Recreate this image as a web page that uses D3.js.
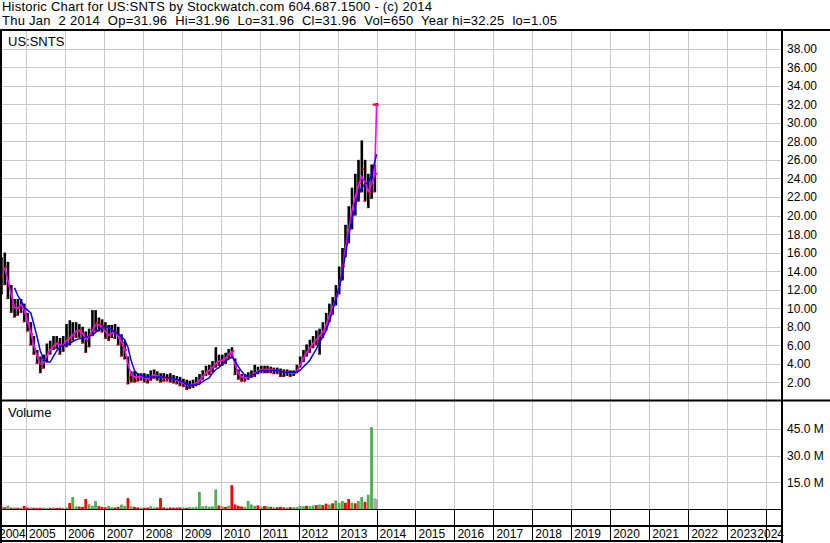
<!DOCTYPE html>
<html>
<head>
<meta charset="utf-8">
<script src="https://cdn.jsdelivr.net/npm/d3@7"></script>
<style>
html, body { margin: 0; padding: 0; background: #fff; }
svg { display: block; font-family: Arial, "Liberation Sans", sans-serif; }
</style>
</head>
<body>
<svg id="chart" width="830" height="543"></svg>
<script>
// monthly bars, May 2004 .. Dec 2013, plus the Jan 2 2014 print
const closes = [13.5,14.5,12.5,10.5,10.0,10.0,10.5,9.5,8.4,7.2,
  5.6,4.6,3.6,4.3,5.3,5.8,6.2,6.3,6.0,6.2,
  6.8,7.0,7.2,7.6,7.7,7.2,6.5,7.2,8.0,8.4,
  8.3,8.1,7.3,7.2,7.5,7.5,6.8,6.0,5.5,2.5,
  2.6,2.5,2.6,2.6,2.5,2.3,2.7,2.9,2.7,2.5,
  2.5,2.5,2.5,2.3,2.2,2.0,1.9,1.7,1.7,1.8,
  2.0,2.3,2.8,3.2,3.3,3.7,4.2,4.4,4.4,4.6,
  5.1,5.4,3.3,2.7,2.5,2.5,2.7,2.9,3.0,3.3,
  3.4,3.4,3.4,3.4,3.3,3.3,3.2,3.1,3.1,3.0,
  3.0,3.4,4.2,4.9,5.4,5.9,6.4,6.8,7.1,7.6,
  8.6,9.5,10.4,11.3,13.0,14.5,17.3,18.7,21.0,22.3,
  23.5,25.0,23.2,22.4,23.8,24.5,31.96];

const highs = [15.5,16.0,15.0,12.5,11.0,11.0,11.0,10.5,9.5,8.5,
  7.0,5.5,4.8,5.0,6.2,6.5,7.0,7.0,6.8,7.0,
  8.3,8.7,8.5,8.5,8.3,8.0,7.5,7.8,9.8,9.8,
  9.0,8.8,8.5,8.2,8.2,8.3,8.0,7.2,6.5,4.8,
  3.2,3.2,3.0,3.0,3.0,2.9,3.3,3.4,3.2,3.0,
  3.0,2.9,3.0,2.8,2.7,2.6,2.4,2.3,2.2,2.3,
  2.6,2.9,3.3,3.8,3.9,4.3,5.8,5.0,5.0,5.2,
  5.6,5.8,4.6,3.4,2.9,2.9,3.1,3.3,3.9,3.7,
  3.8,3.8,3.8,3.7,3.6,3.6,3.5,3.4,3.4,3.3,
  3.3,3.9,4.8,5.5,6.1,6.6,7.0,7.6,7.8,8.5,
  9.5,10.5,11.2,12.5,14.5,16.5,19.0,21.0,23.0,24.5,
  26.0,28.1,26.0,24.5,25.5,25.5,32.1];

const lows = [11.5,12.5,11.0,9.5,9.0,9.2,9.5,8.5,7.5,6.0,
  5.0,4.0,3.0,3.5,4.2,5.0,5.5,5.6,5.0,5.3,
  5.8,6.0,6.5,6.8,6.8,6.2,5.2,5.8,7.0,7.5,
  7.5,7.4,6.7,6.5,6.8,6.7,6.0,4.8,4.5,1.8,
  2.0,2.0,2.1,2.2,2.0,1.9,2.2,2.4,2.2,2.0,
  2.1,2.1,2.0,1.9,1.8,1.6,1.5,1.2,1.3,1.4,
  1.6,1.9,2.3,2.7,2.8,3.1,3.6,3.8,3.8,4.0,
  4.5,4.6,2.8,2.3,2.1,2.1,2.3,2.5,2.6,2.9,
  3.0,3.0,3.0,3.0,2.9,2.9,2.6,2.6,2.7,2.6,
  2.7,3.0,3.6,4.2,4.8,5.2,5.7,6.0,5.0,6.8,
  7.6,8.5,9.3,10.3,11.5,13.0,15.5,17.0,18.5,20.0,
  21.5,22.5,21.5,20.8,21.8,22.5,31.8];

// magenta (short) and blue (long) average lines as drawn
const avgShort = [null,14.4,13.0,11.5,10.1,10.0,10.4,9.8,8.6,7.4,
  6.0,4.8,4.0,4.1,4.9,5.5,5.9,6.2,6.1,6.0,
  6.5,6.8,7.1,7.5,7.6,7.3,6.7,6.9,7.6,8.2,
  8.2,8.0,7.5,7.1,7.3,7.4,7.0,6.4,5.6,4.0,
  2.8,2.6,2.6,2.6,2.5,2.4,2.6,2.8,2.7,2.6,
  2.5,2.5,2.5,2.4,2.2,2.1,1.9,1.8,1.7,1.8,
  1.9,2.2,2.6,3.0,3.3,3.6,4.0,4.3,4.4,4.6,
  5.0,5.3,4.0,3.0,2.6,2.5,2.6,2.8,3.0,3.2,
  3.4,3.4,3.4,3.4,3.3,3.3,3.2,3.1,3.1,3.0,
  3.0,3.2,3.9,4.6,5.2,5.7,6.2,6.6,7.0,7.4,
  8.2,9.2,10.1,11.0,12.4,14.0,16.4,18.4,20.5,22.0,
  23.2,24.2,23.6,22.6,23.4,24.4,31.96];

const avgLong = [null,null,null,null,12.2,11.4,10.8,10.1,9.8,9.5,
  8.3,6.9,5.4,4.5,4.2,4.2,4.8,5.4,5.8,6.0,
  6.1,6.2,6.4,6.6,6.7,6.8,6.9,7.0,7.1,7.4,
  7.7,7.9,8.0,7.9,7.7,7.4,7.2,6.9,6.6,5.8,
  4.3,3.3,2.9,2.8,2.6,2.6,2.6,2.6,2.6,2.6,
  2.6,2.5,2.5,2.4,2.3,2.2,2.0,1.8,1.7,1.7,
  1.8,1.8,2.1,2.3,2.5,3.0,3.4,3.6,4.0,4.3,
  4.5,4.8,4.3,3.7,3.2,2.8,2.6,2.8,2.9,3.1,
  3.3,3.3,3.3,3.3,3.3,3.3,3.2,3.1,3.1,3.1,
  3.1,3.1,3.3,3.7,4.0,4.4,5.0,5.6,6.3,6.9,
  7.6,8.6,9.7,11.0,12.2,13.8,15.8,17.8,19.6,21.0,
  22.2,23.0,23.4,23.6,24.3,25.8,26.6];

// volume in millions, with bar colour (g up, r down, x unsettled)
const volumes = [1.5,1.0,1.9,0.8,0.9,0.7,0.8,1.7,0.8,0.9,
  0.7,0.6,0.7,0.8,0.6,0.7,0.8,0.6,0.7,0.7,
  0.9,3.4,6.7,1.5,1.3,1.2,5.6,2.7,1.8,4.5,
  1.6,1.2,0.9,1.7,1.0,0.8,1.2,2.5,1.8,6.1,
  1.5,1.2,0.9,0.8,0.7,0.8,1.5,0.9,0.8,6.1,
  0.9,0.8,0.9,0.7,0.8,0.9,0.8,0.7,1.0,0.9,
  1.2,9.6,1.5,1.8,1.3,1.5,11.0,2.0,1.5,1.2,
  1.8,13.4,2.5,1.8,1.4,1.2,4.5,2.5,1.8,2.0,
  1.3,1.7,1.5,1.2,1.0,1.0,1.2,0.9,0.9,1.1,
  1.0,1.2,1.7,1.5,1.8,1.6,2.0,2.2,2.5,2.2,
  3.0,2.5,3.2,4.8,3.5,4.5,3.5,5.6,3.5,3.2,
  4.5,6.7,4.0,8.0,46.0,6.0,5.5];

const volDirs = ('grgrgrgrrg' + 'rrrggrgrrg' + 'grggrrrggg' + 'rrrggrrggr' + 'grrgrrggrr' +
  'rgrrrrgrgg' + 'gggggggrgr' + 'grrrrggggr' + 'grgrgrrrgr' + 'ggggrggrgr' +
  'rgrgggrrgr' + 'ggrgg' + 'xx').split('');

const priceTicks = [2,4,6,8,10,12,14,16,18,20,22,24,26,28,30,32,34,36,38];
const volumeTicks = [15, 30, 45];
const yearTicks = d3.range(2004, 2025);

const titleLine = 'Historic Chart for US:SNTS by Stockwatch.com 604.687.1500 - (c) 2014';
const quoteLine = 'Thu Jan  2 2014  Op=31.96  Hi=31.96  Lo=31.96  Cl=31.96  Vol=650  Year hi=32.25  lo=1.05';

const dates = d3.timeMonth.range(new Date(2004, 4, 1), new Date(2014, 0, 1))
  .map(d => d3.timeDay.offset(d, 14));
dates.push(new Date(2014, 0, 2));

const plotL = 1, plotR = 782;
const priceTop = 30, priceBot = 400, volBot = 509;

const x = d3.scaleTime()
  .domain([new Date(2005, 0, 1), new Date(2024, 0, 1)])
  .range([26, 766]);
const yP = d3.scaleLinear().domain([0, 40]).range([401, 30]);
const yV = d3.scaleLinear().domain([0, 60.6]).range([509, 401]);

const svg = d3.select('#chart');
const gridColor = '#c8c8c8';

const defs = svg.append('defs');
defs.append('clipPath').attr('id', 'clipP').append('rect')
  .attr('x', 2).attr('y', priceTop + 1).attr('width', plotR - 3).attr('height', priceBot - priceTop - 2);
defs.append('clipPath').attr('id', 'clipV').append('rect')
  .attr('x', 2).attr('y', priceBot + 2).attr('width', plotR - 3).attr('height', volBot - priceBot - 2);

const crisp = v => Math.round(v) + 0.5;

// grid
const grid = svg.append('g');
yearTicks.filter(yr => yr > 2004).forEach(yr => {
  const xx = crisp(x(new Date(yr, 0, 1)));
  grid.append('line').attr('x1', xx).attr('x2', xx).attr('y1', priceTop).attr('y2', volBot)
    .attr('stroke', gridColor);
});
priceTicks.forEach(v => {
  const yy = crisp(yP(v));
  grid.append('line').attr('x1', plotL).attr('x2', plotR).attr('y1', yy).attr('y2', yy)
    .attr('stroke', gridColor);
});
volumeTicks.forEach(v => {
  const yy = crisp(yV(v));
  grid.append('line').attr('x1', plotL).attr('x2', plotR).attr('y1', yy).attr('y2', yy)
    .attr('stroke', gridColor);
});

// price bars
const pg = svg.append('g').attr('clip-path', 'url(#clipP)');
dates.forEach((d, i) => {
  const cx = x(d);
  pg.append('rect')
    .attr('x', cx - 1.2).attr('width', 2.6)
    .attr('y', yP(highs[i])).attr('height', Math.max(1, yP(lows[i]) - yP(highs[i])))
    .attr('fill', '#000');
});
dates.forEach((d, i) => {
  const cx = x(d);
  const last = i === dates.length - 1;
  pg.append('rect')
    .attr('x', last ? cx - 4 : cx + 0.4).attr('width', last ? 6 : 2)
    .attr('y', yP(closes[i]) - 1).attr('height', 2)
    .attr('fill', '#ff0000');
  pg.append('rect')
    .attr('x', cx - 1.6).attr('width', 1.6)
    .attr('y', yP(lows[i]) - 1.5).attr('height', 1.6)
    .attr('fill', '#ff0000');
});

const line = arr => d3.line()
  .defined((d, i) => arr[i] != null)
  .x(d => x(d))
  .y((d, i) => yP(arr[i]))(dates);

pg.append('path').attr('d', line(avgShort))
  .attr('fill', 'none').attr('stroke', '#ff00ff').attr('stroke-width', 1.6);
pg.append('path').attr('d', line(avgLong))
  .attr('fill', 'none').attr('stroke', '#0000ff').attr('stroke-width', 1.5);

// volume bars
const volColor = { g: '#4cb04c', r: '#ff0000', x: '#aaaaaa' };
const vg = svg.append('g').attr('clip-path', 'url(#clipV)');
dates.forEach((d, i) => {
  vg.append('rect')
    .attr('x', x(d) - 1.4).attr('width', 2.8)
    .attr('y', yV(volumes[i])).attr('height', volBot - yV(volumes[i]))
    .attr('fill', volColor[volDirs[i]]);
});

// frame lines
const frame = svg.append('g').attr('stroke', '#000');
frame.append('line').attr('x1', 0).attr('x2', 830).attr('y1', 30).attr('y2', 30).attr('stroke-width', 2);
frame.append('line').attr('x1', 0).attr('x2', 830).attr('y1', 400.5).attr('y2', 400.5).attr('stroke-width', 2);
frame.append('line').attr('x1', 0).attr('x2', plotR).attr('y1', 509.5).attr('y2', 509.5).attr('stroke-width', 1);
frame.append('line').attr('x1', 0).attr('x2', plotR).attr('y1', 526).attr('y2', 526).attr('stroke-width', 2);
frame.append('line').attr('x1', 0).attr('x2', plotR).attr('y1', 541).attr('y2', 541).attr('stroke-width', 2);
frame.append('line').attr('x1', 1).attr('x2', 1).attr('y1', 29).attr('y2', 543).attr('stroke-width', 2);
frame.append('line').attr('x1', 782).attr('x2', 782).attr('y1', 29).attr('y2', 543).attr('stroke-width', 2);
yearTicks.filter(yr => yr > 2004).forEach(yr => {
  const xx = crisp(x(new Date(yr, 0, 1)));
  frame.append('line').attr('x1', xx).attr('x2', xx).attr('y1', 509).attr('y2', 541).attr('stroke-width', 1);
});

// texts
const txt = svg.append('g').attr('fill', '#000').style('font-size', '12px');
txt.append('text').attr('x', 2).attr('y', 11).style('font-size', '13px')
  .attr('textLength', 430).attr('lengthAdjust', 'spacing').text(titleLine);
txt.append('text').attr('x', 2).attr('y', 25).style('font-size', '13px').style('white-space', 'pre')
  .attr('textLength', 555).attr('lengthAdjust', 'spacing').text(quoteLine);
txt.append('text').attr('x', 8).attr('y', 46).style('font-size', '13px').text('US:SNTS');
txt.append('text').attr('x', 8).attr('y', 417).style('font-size', '13px').text('Volume');

priceTicks.forEach(v => {
  txt.append('text').attr('x', 787).attr('y', yP(v) + 4.5).text(d3.format('.2f')(v));
});
volumeTicks.forEach(v => {
  txt.append('text').attr('x', 787).attr('y', yV(v) + 4.5).text(d3.format('.1f')(v) + ' M');
});

yearTicks.forEach(yr => {
  const t = txt.append('text').attr('y', 538).text(String(yr));
  const w = t.node().getComputedTextLength();
  const lx = Math.min(Math.max(x(new Date(yr, 0, 1)) + 3, -1), 784 - w);
  t.attr('x', lx);
});
</script>
</body>
</html>
